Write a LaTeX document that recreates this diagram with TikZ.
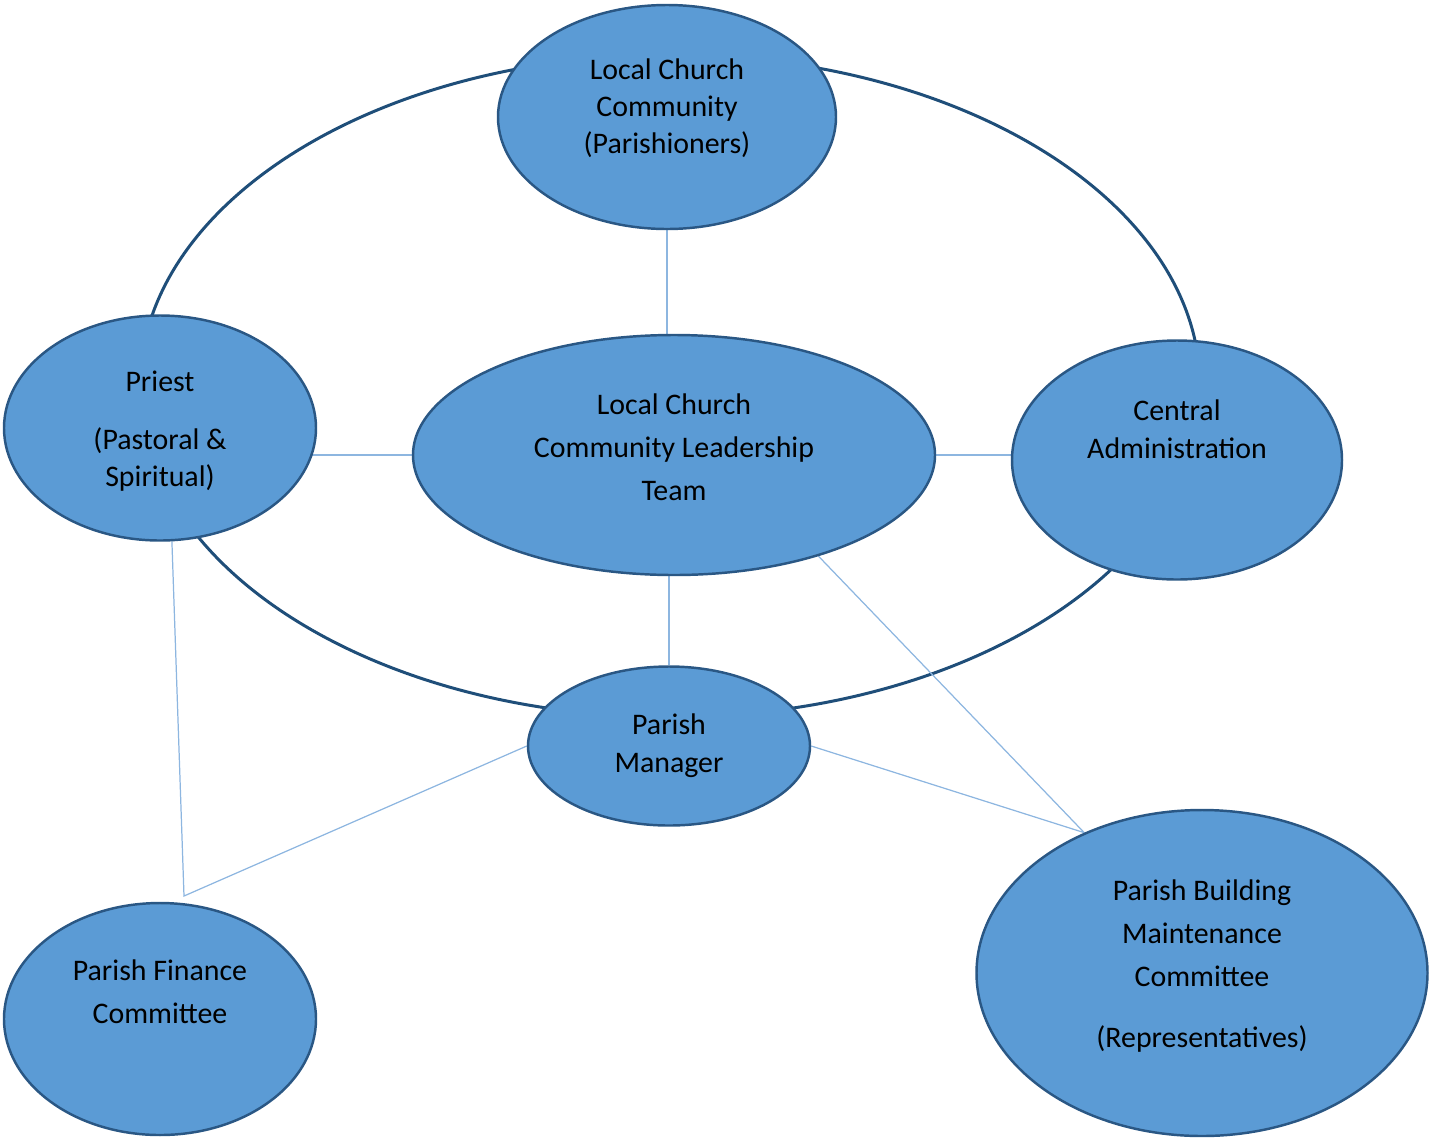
\documentclass[tikz,border=0pt]{standalone}
\usepackage{fontspec}
\setmainfont{Carlito}
\usetikzlibrary{shapes.geometric,backgrounds}
\definecolor{blobfill}{HTML}{5B9BD5}
\definecolor{blobedge}{HTML}{2A5784}
\definecolor{ringblue}{HTML}{1F4E79}
\definecolor{linkblue}{HTML}{8DB6E0}
\tikzset{
  blob/.style={ellipse,draw=blobedge,fill=blobfill,line width=0.7pt,inner sep=0pt},
  txt/.style={align=center,inner sep=0pt,font=\fontsize{8.5pt}{10.5pt}\selectfont},
  ring/.style={draw=ringblue,line width=0.85pt},
  link/.style={draw=linkblue,line width=0.35pt}
}
\begin{document}
\begin{tikzpicture}
                \useasboundingbox(0,0)rectangle(14.29,-11.37);
                \node[blob,minimum width=3.38cm,minimum height=2.24cm](top)at(6.67,-1.17){};
                \node[blob,minimum width=3.12cm,minimum height=2.25cm](pri)at(1.60,-4.28){};
                \node[blob,minimum width=5.22cm,minimum height=2.40cm](mid)at(6.74,-4.55){};
                \node[blob,minimum width=3.30cm,minimum height=2.39cm](cen)at(11.77,-4.60){};
                \node[blob,minimum width=2.82cm,minimum height=1.59cm](mgr)at(6.69,-7.46){};
                \node[blob,minimum width=3.12cm,minimum height=2.32cm](fin)at(1.60,-10.19){};
                \node[blob,minimum width=4.51cm,minimum height=3.26cm](bld)at(12.02,-9.73){};
                \node[txt](topTxt)at(6.67,-1.08){Local Church\\Community\\(Parishioners)};
                \node[txt](priTxt)at(1.60,-4.31){Priest\\[6pt](Pastoral \&\\Spiritual)};
                \node[txt](midTxt)at(6.74,-4.47){Local Church\\[1.7pt]Community Leadership\\[1.7pt]Team};
                \node[txt](cenTxt)at(11.77,-4.29){Central\\[0.3pt]Administration};
                \node[txt](mgrTxt)at(6.69,-7.46){Parish\\[0.4pt]Manager};
                \node[txt](finTxt)at(1.60,-9.92){Parish Finance\\[1.7pt]Committee};
                \node[txt](bldTxt)at(12.02,-9.66){Parish Building\\[1.7pt]Maintenance\\[1.7pt]Committee\\[7pt](Representatives)};
                \coordinate(finMeet)at(1.84,-8.96);
                \begin{scope}[on background layer]
                    \draw[ring](6.70,-3.86)ellipse[x radius=5.30,y radius=3.31];
                    \draw[link](top.south)--(top.south|-mid.north);
                    \draw[link](mid.west)--(pri.center|-mid.west);
                    \draw[link](mid.east)--(cen.center|-mid.east);
                    \draw[link](mgr.north)--(mgr.north|-mid.south);
                    \draw[link](pri.-84)--(finMeet)--(mgr.west);
                    \draw[link](mgr.east)--(bld.130)--(mid.-35);
                \end{scope}
            \end{tikzpicture}
\end{document}
